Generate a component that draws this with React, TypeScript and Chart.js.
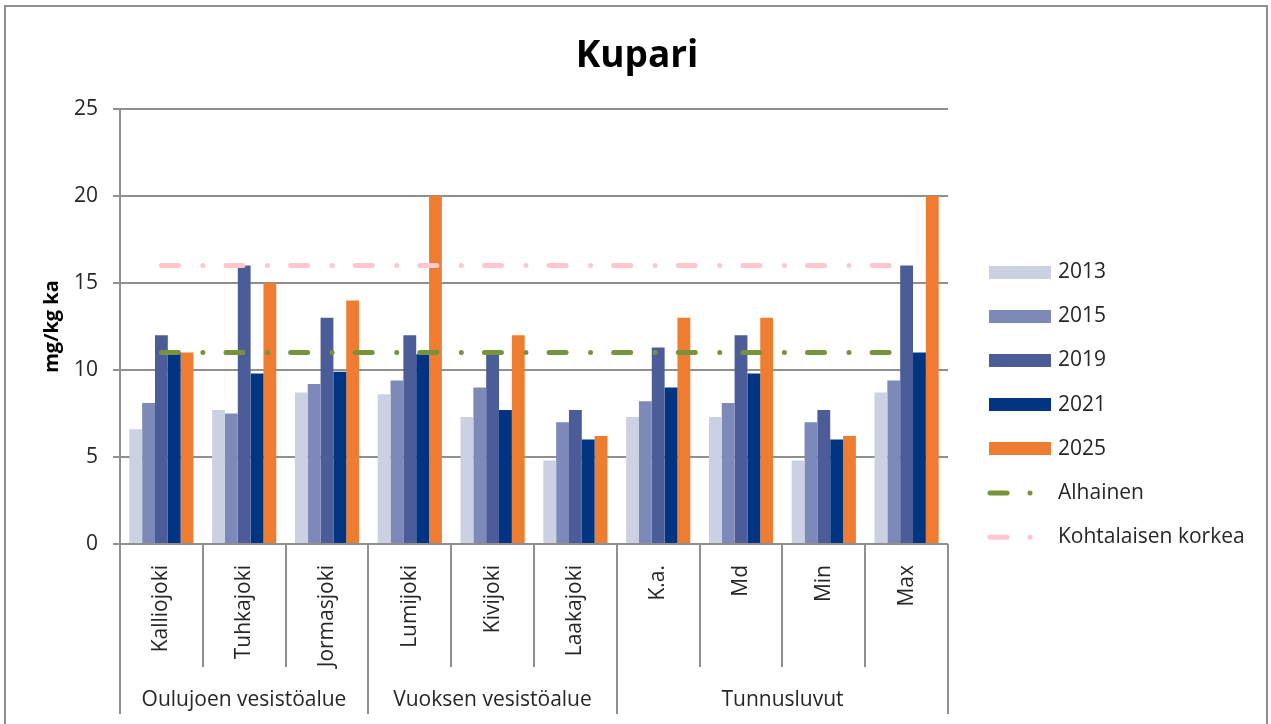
import React, { useEffect, useRef } from "react";
import { Chart, registerables } from "chart.js";

Chart.register(...registerables);

const categories = ["Kalliojoki", "Tuhkajoki", "Jormasjoki", "Lumijoki", "Kivijoki", "Laakajoki", "K.a.", "Md", "Min", "Max"];
const groupNames = ["Oulujoen vesistöalue", "Vuoksen vesistöalue", "Tunnusluvut"];
const groupSizes = [3, 3, 4];

const v2013 = [6.6, 7.7, 8.7, 8.6, 7.3, 4.8, 7.3, 7.3, 4.8, 8.7];
const v2015 = [8.1, 7.5, 9.2, 9.4, 9.0, 7.0, 8.2, 8.1, 7.0, 9.4];
const v2019 = [12.0, 16.0, 13.0, 12.0, 10.9, 7.7, 11.3, 12.0, 7.7, 16.0];
const v2021 = [11.0, 9.8, 9.9, 10.9, 7.7, 6.0, 9.0, 9.8, 6.0, 11.0];
const v2025 = [11.0, 15.0, 14.0, 20.0, 12.0, 6.2, 13.0, 13.0, 6.2, 20.0];

const alhainen = 11;
const kohtalaisenKorkea = 16;

const yTicks = [0, 5, 10, 15, 20, 25];

const FONT = "'Open Sans', sans-serif";
const TEXT = "#262626";
const GRID = "#8f8f8f";

const barSeries = [
  { label: "2013", data: v2013, color: "#cbd0e2" },
  { label: "2015", data: v2015, color: "#7d89b8" },
  { label: "2019", data: v2019, color: "#4b5c99" },
  { label: "2021", data: v2021, color: "#023581" },
  { label: "2025", data: v2025, color: "#ee7d31" },
];
const lineSeries = [
  { label: "Alhainen", value: alhainen, color: "#77933c" },
  { label: "Kohtalaisen korkea", value: kohtalaisenKorkea, color: "#ffc6cc" },
];

const DASH = [17, 24.5, 0.01, 23.1];

const decorPlugin = {
  id: "decor",
  beforeDraw(chart: any) {
    const ctx = chart.ctx;
    ctx.save();
    ctx.fillStyle = "#ffffff";
    ctx.fillRect(0, 0, chart.width, chart.height);
    ctx.restore();
  },
  afterDraw(chart: any) {
    const ctx = chart.ctx;
    const xs = chart.scales.x;
    const area = chart.chartArea;
    const n = categories.length;
    const step = xs.getPixelForValue(1) - xs.getPixelForValue(0);
    const boundary = (i: number) => Math.round(xs.getPixelForValue(i) - step / 2);
    ctx.save();
    // outer frame
    ctx.strokeStyle = GRID;
    ctx.lineWidth = 2;
    ctx.strokeRect(5, 6, 1262, 740);

    // category separators
    const groupStarts = new Set<number>();
    let acc = 0;
    groupStarts.add(0);
    for (const s of groupSizes) {
      acc += s;
      groupStarts.add(acc);
    }
    for (let i = 0; i <= n; i++) {
      const px = boundary(i);
      const bottom = groupStarts.has(i) ? area.bottom + 170 : area.bottom + 123;
      ctx.beginPath();
      ctx.moveTo(px, area.bottom);
      ctx.lineTo(px, bottom);
      ctx.stroke();
    }
    // group labels
    ctx.fillStyle = TEXT;
    ctx.font = `21px ${FONT}`;
    ctx.textAlign = "center";
    ctx.textBaseline = "middle";
    let start = 0;
    groupNames.forEach((g, gi) => {
      const end = start + groupSizes[gi];
      const cx = (boundary(start) + boundary(end)) / 2;
      ctx.fillText(g, cx, area.bottom + 156);
      start = end;
    });

    // title
    ctx.font = `bold 37px ${FONT}`;
    ctx.textBaseline = "alphabetic";
    ctx.fillStyle = "#000000";
    ctx.fillText("Kupari", 637, 67);

    // legend
    ctx.font = `21px ${FONT}`;
    ctx.textAlign = "left";
    ctx.textBaseline = "middle";
    const rowY = (i: number) => 272 + 44.2 * i;
    barSeries.forEach((s, i) => {
      const y = rowY(i);
      ctx.fillStyle = s.color;
      ctx.fillRect(989, Math.round(y - 6.5), 62, 13);
      ctx.fillStyle = TEXT;
      ctx.fillText(s.label, 1058, y);
    });
    lineSeries.forEach((s, j) => {
      const y = rowY(barSeries.length + j);
      ctx.strokeStyle = s.color;
      ctx.lineWidth = 5;
      ctx.lineCap = "round";
      ctx.beginPath();
      ctx.moveTo(990, y);
      ctx.lineTo(1007, y);
      ctx.stroke();
      ctx.beginPath();
      ctx.moveTo(1030, y);
      ctx.lineTo(1030.01, y);
      ctx.stroke();
      ctx.fillStyle = TEXT;
      ctx.fillText(s.label, 1058, y);
    });
    ctx.restore();
  },
};

export default function App() {
  const ref = useRef<HTMLCanvasElement>(null);
  useEffect(() => {
    let chart: Chart | null = null;
    let cancelled = false;
    const make = () => {
      if (cancelled || !ref.current) return;
      const datasets: any[] = [
        ...lineSeries.map((s) => ({
          type: "line",
          label: s.label,
          data: categories.map(() => s.value),
          borderColor: s.color,
          backgroundColor: s.color,
          borderWidth: 5,
          borderDash: DASH,
          borderCapStyle: "round",
          pointRadius: 0,
          fill: false,
          order: 0,
        })),
        ...barSeries.map((s) => ({
          type: "bar",
          label: s.label,
          data: s.data,
          backgroundColor: s.color,
          borderWidth: 0,
          categoryPercentage: 0.775,
          barPercentage: 1.0,
          order: 1,
        })),
      ];
      chart = new Chart(ref.current, {
        type: "bar",
        data: { labels: categories, datasets },
        plugins: [decorPlugin],
        options: {
          responsive: false,
          animation: false,
          devicePixelRatio: 1,
          layout: { padding: { left: 0, top: 109, right: 323, bottom: 0 } },
          plugins: {
            legend: { display: false },
            title: { display: false },
            tooltip: { enabled: false },
          },
          scales: {
            x: {
              offset: true,
              grid: { display: false },
              border: { display: false },
              ticks: {
                color: TEXT,
                font: { family: FONT, size: 21 },
                maxRotation: 90,
                minRotation: 90,
                padding: 13,
                autoSkip: false,
              },
              afterFit: (s: any) => {
                s.height = 180;
              },
            },
            y: {
              min: 0,
              max: 25,
              afterBuildTicks: (s: any) => {
                s.ticks = yTicks.map((v) => ({ value: v }));
              },
              grid: {
                color: GRID,
                lineWidth: 2,
                tickLength: 7,
                drawTicks: true,
              },
              border: { display: true, color: GRID, width: 2 },
              ticks: {
                color: TEXT,
                font: { family: FONT, size: 21 },
                padding: 15,
              },
              title: {
                display: true,
                text: "mg/kg ka",
                color: "#000000",
                font: { family: FONT, size: 20, weight: "bold" },
                padding: { top: 40, bottom: 0 },
              },
              afterFit: (s: any) => {
                s.width = 120;
              },
            },
          },
        },
      } as any);
    };
    const fontsAny: any = (document as any).fonts;
    if (fontsAny && fontsAny.load) {
      Promise.all([
        fontsAny.load(`21px 'Open Sans'`),
        fontsAny.load(`bold 37px 'Open Sans'`),
      ])
        .catch(() => null)
        .then(make);
    } else {
      make();
    }
    return () => {
      cancelled = true;
      if (chart) chart.destroy();
    };
  }, []);
  return (
    <div style={{ position: "fixed", left: 0, top: 0, width: 1271, height: 724, background: "#ffffff" }}>
      <canvas ref={ref} width={1271} height={724} style={{ display: "block", width: 1271, height: 724 }} />
    </div>
  );
}
